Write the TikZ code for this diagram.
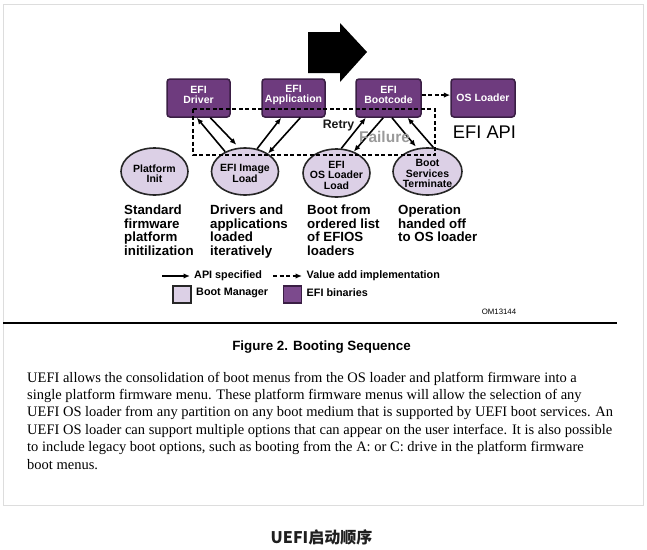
\documentclass[tikz,border=0pt]{standalone}
\usepackage{fontspec}
\setmainfont{Liberation Serif}
\newfontfamily\arial{Liberation Sans}
\newfontfamily\cjk{Noto Sans CJK SC}
\usetikzlibrary{shapes.geometric,arrows.meta}
\definecolor{efipurple}{HTML}{6E3B7E}
\definecolor{boxborder}{HTML}{3A1E44}
\definecolor{bmlav}{HTML}{DCD0E6}
\definecolor{legpurple}{HTML}{7C4A8D}
\definecolor{framegray}{HTML}{DDDDDD}
\definecolor{failgray}{HTML}{9A9A9A}
\tikzset{
  efibox/.style={draw=boxborder, fill=efipurple, rounded corners=3pt, line width=1.5pt,
    minimum width=63pt, minimum height=38pt, inner sep=0pt},
  boxtext/.style={text=white, align=center, inner sep=0pt, yshift=3pt,
    font=\arial\bfseries\fontsize{10.5}{10.3}\selectfont},
  bmell/.style={ellipse, draw=black!85, fill=bmlav, line width=1.6pt,
    minimum width=67pt, minimum height=47pt, inner sep=0pt},
  elltext/.style={align=center, inner sep=0pt, yshift=-2pt,
    font=\arial\bfseries\fontsize{10.5}{10.5}\selectfont},
  arr/.style={-{Latex[length=6.5pt,width=5.5pt]}, line width=1.6pt},
  darr/.style={arr, dash pattern=on 4pt off 2.5pt},
  desc/.style={anchor=north west, inner sep=0pt, align=left,
    font=\arial\bfseries\fontsize{13.3}{13.7}\selectfont},
  legtext/.style={anchor=west, inner sep=0pt,
    font=\arial\bfseries\fontsize{10.8}{11}\selectfont},
}
\begin{document}
\begin{tikzpicture}[x=1pt,y=-1pt]
\useasboundingbox (0,0) rectangle (647,549);
\fill[white] (0,0) rectangle (647,549);
% frame and rule
\draw[framegray, line width=1pt] (3,4.5) rectangle (643,505);
\draw[line width=1.8pt] (3,323) -- (617,323);
% big black arrow
\fill[black] (308,32) -- (340,32) -- (340,23) -- (367,52) -- (340,82) -- (340,73) -- (308,73) -- cycle;
% EFI boxes
\node[efibox, label={[boxtext]center:EFI\\Driver}] (drv) at (198.5,98) {};
\node[efibox, label={[boxtext]center:EFI\\Application}] (app) at (293.5,98) {};
\node[efibox, minimum width=65pt, label={[boxtext]center:EFI\\Bootcode}] (bc) at (388.5,98) {};
\node[efibox, minimum width=64pt, label={[boxtext, yshift=-3pt]center:OS Loader}] (osl) at (483,98) {};
\node[inner sep=0pt, font=\arial\fontsize{18.3}{18.3}\selectfont] (api) at (484.5,132) {EFI API};
% Boot manager ellipses
\node[bmell, label={[elltext]center:Platform\\Init}] (pi) at (154.5,171.5) {};
\node[bmell, label={[elltext]center:EFI Image\\Load}] (il) at (245,171.5) {};
\node[bmell, minimum height=48pt, label={[elltext]center:EFI\\OS Loader\\Load}] (oll) at (336.5,173) {};
\node[bmell, minimum width=69pt, label={[elltext]center:Boot\\Services\\Terminate}] (bst) at (427.5,171.5) {};
% dashed rectangle
\draw[line width=1.6pt, dash pattern=on 4pt off 2.5pt] (193,109) rectangle (435,155);
% connectors
\draw[darr] (bc.5) -- (osl.west |- bc.5);
\draw[arr] (il.135) -- (drv.265);
\draw[arr] (drv.301) -- ([shift={(-1pt,3pt)}]il.108);
\draw[arr] (il.62) -- (app.238);
\draw[arr] (app.289) -- (il.38);
\draw[arr] (oll.79) -- (bc.221);
\draw[arr] (bc.255) -- (oll.51);
\draw[arr] (bc.280) -- ([shift={(0pt,2pt)}]bst.117);
\draw[arr] (bst.76) -- (bc.314);
\node[inner sep=0pt, text=black!90, font=\arial\bfseries\fontsize{12.3}{12.3}\selectfont] (retry) at (338.5,126) {Retry};
\node[inner sep=0pt, text=failgray, font=\arial\bfseries\fontsize{15.5}{15.5}\selectfont] (fail) at (384.5,136.5) {Failure};
% descriptions
\node[desc] (d1) at (124,204.5) {Standard\\firmware\\platform\\initilization};
\node[desc] (d2) at (210,204.5) {Drivers and\\applications\\loaded\\iteratively};
\node[desc] (d3) at (307,204.5) {Boot from\\ordered list\\of EFIOS\\loaders};
\node[desc] (d4) at (398,204.5) {Operation\\handed off\\to OS loader};
% legend
\coordinate (la1) at (162,276);
\coordinate (la2) at (190,276);
\draw[arr] (la1) -- (la2);
\node[legtext] (lt1) at (194,276) {API specified};
\coordinate (lb1) at (273,276);
\coordinate (lb2) at (302,276);
\draw[darr] (lb1) -- (lb2);
\node[legtext] (lt2) at (306.5,276) {Value add implementation};
\node[draw=black!85, fill=bmlav, line width=1.5pt, minimum width=18pt, minimum height=17pt, inner sep=0pt] (lbm) at (182,294.5) {};
\node[legtext] (lt3) at (196,293) {Boot Manager};
\node[draw=boxborder, fill=legpurple, line width=1.5pt, minimum width=18pt, minimum height=17pt, inner sep=0pt] (lefi) at (292.5,294.5) {};
\node[legtext] (lt4) at (306.5,293) {EFI binaries};
\node[inner sep=0pt, font=\arial\fontsize{7.8}{8}\selectfont] (om) at (499,312) {OM13144};
% caption and paragraph
\node[inner sep=0pt, font=\arial\bfseries\fontsize{13.4}{13.4}\selectfont] (cap) at (321.5,347) {Figure 2. Booting Sequence};
\node[anchor=base west, inner sep=0pt, align=left, font=\fontsize{14.5}{17.4}\selectfont] (para) at (27,469) {UEFI allows the consolidation of boot menus from the OS loader and platform firmware into a\\
single platform firmware menu. These platform firmware menus will allow the selection of any\\
UEFI OS loader from any partition on any boot medium that is supported by UEFI boot services. An\\
UEFI OS loader can support multiple options that can appear on the user interface. It is also possible\\
to include legacy boot options, such as booting from the A: or C: drive in the platform firmware\\
boot menus.};
\node[inner sep=0pt, text=black!88, font=\cjk\bfseries\fontsize{16}{16}\selectfont] (title) at (321.5,537) {UEFI启动顺序};
\end{tikzpicture}
\end{document}
